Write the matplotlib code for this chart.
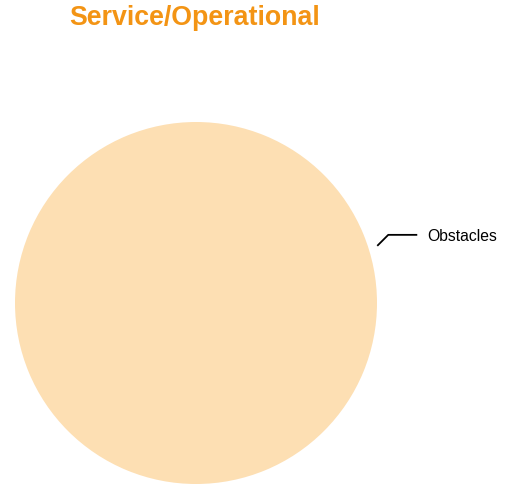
import numpy as np
import matplotlib
matplotlib.use('Agg')
from matplotlib import pyplot as plt

# data
categories = ['Obstacles']
values = [100]
slice_colors = ['#FDDFB3']
title = 'Service/Operational'

W, H, dpi = 512, 484, 100.0
fig = plt.figure(figsize=(W/dpi, H/dpi), dpi=dpi)
fig.patch.set_facecolor('white')

# pie axes in pixel terms: centre (196, 303), radius 181
cx, cy, r = 196.0, 303.0, 181.0
ax = fig.add_axes([(cx - r)/W, (H - cy - r)/H, 2*r/W, 2*r/H])
ax.set_axis_off()

mid_angle = 17.5
wedges, _ = ax.pie(values, colors=slice_colors, startangle=mid_angle - 180,
                   radius=1.0, wedgeprops=dict(linewidth=0))
ax.set_xlim(-1, 1)
ax.set_ylim(-1, 1)
ax.set_aspect('equal')

# leader line + label
for w, name in zip(wedges, categories):
    ang = np.radians((w.theta1 + w.theta2) / 2.0)
    x0, y0 = 1.05*np.cos(ang), 1.05*np.sin(ang)
    x1, y1 = x0 + 11/r, y0 + 11/r
    x2 = x1 + 29/r
    ax.plot([x0, x1, x2], [y0, y1, y1], color='black', lw=1.3,
            clip_on=False, solid_capstyle='butt')
    ax.text(x2 + 10/r, y1 - 2/r, name, ha='left', va='center', fontsize=11.3,
            family='Liberation Sans', clip_on=False)

fig.text(195/W, 1 - 18/H, title, ha='center', va='center', fontsize=19.3,
         fontweight='bold', color='#F39414', family='Liberation Sans')

fig.savefig('out.png', dpi=dpi, facecolor='white')
